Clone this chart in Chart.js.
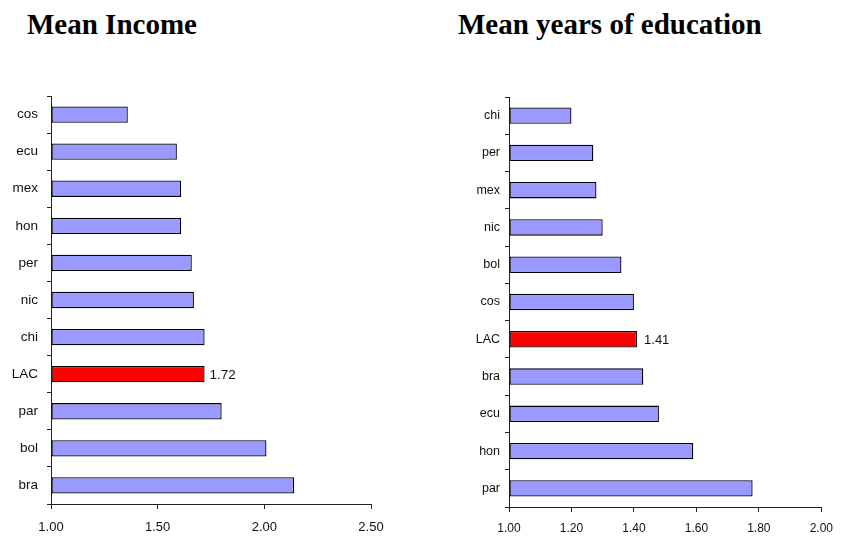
<!DOCTYPE html>
<html>
<head>
<meta charset="utf-8">
<script src="https://cdn.jsdelivr.net/npm/chart.js@4.4.1/dist/chart.umd.min.js"></script>
<style>
  body { margin: 0; background: #fff; }
  #page { position: relative; width: 842px; height: 539px; overflow: hidden; }
  .ttl { position: absolute; top: 10px; font-family: "Liberation Serif", "Times New Roman", serif; font-weight: bold; font-size: 29px; line-height: 29px; color: #000; white-space: nowrap; }
  #boxL { position: absolute; left: 0; top: 0; width: 420px; height: 539px; }
  #boxR { position: absolute; left: 420px; top: 0; width: 422px; height: 539px; }
</style>
</head>
<body>
<div id="page">
  <div class="ttl" style="left:27px">Mean Income</div>
  <div class="ttl" style="left:458px">Mean years of education</div>
  <div id="boxL"><canvas id="incomeChart"></canvas></div>
  <div id="boxR"><canvas id="eduChart"></canvas></div>
</div>
<script>
'use strict';

// mean income, top to bottom
let incomeNames = ['cos', 'ecu', 'mex', 'hon', 'per', 'nic', 'chi', 'LAC', 'par', 'bol', 'bra'];
let incomeValues = [1.36, 1.59, 1.61, 1.61, 1.66, 1.67, 1.72, 1.72, 1.80, 2.01, 2.14];
let incomeTicks = [1.00, 1.50, 2.00, 2.50];

// mean years of education, top to bottom
let eduNames = ['chi', 'per', 'mex', 'nic', 'bol', 'cos', 'LAC', 'bra', 'ecu', 'hon', 'par'];
let eduValues = [1.20, 1.27, 1.28, 1.30, 1.36, 1.40, 1.41, 1.43, 1.48, 1.59, 1.78];
let eduTicks = [1.00, 1.20, 1.40, 1.60, 1.80, 2.00];

let highlight = 'LAC';
let barColor = '#9999ff';
let redColor = '#ff0000';
let axisColor = '#222';

// writes the value next to the LAC bar
let lacLabel = {
    id: 'lacLabel',
    afterDatasetsDraw(chart, args, opts) {
        let names = chart.data.labels;
        let idx = names.indexOf(highlight);
        if (idx < 0) return;
        let bar = chart.getDatasetMeta(0).data[idx];
        let ctx = chart.ctx;
        ctx.save();
        ctx.font = opts.size + 'px "Liberation Sans", Arial, sans-serif';
        ctx.fillStyle = '#111';
        ctx.textAlign = 'left';
        ctx.textBaseline = 'middle';
        ctx.fillText(chart.data.datasets[0].data[idx].toFixed(2), bar.x + opts.gap, bar.y + 1);
        ctx.restore();
    }
};

function makeChart(canvasId, names, values, ticks, cfg) {
    let colors = [];
    for (let i = 0; i < names.length; i++) {
        colors.push(names[i] === highlight ? redColor : barColor);
    }
    let ctx = document.getElementById(canvasId).getContext('2d');
    return new Chart(ctx, {
        type: 'bar',
        data: {
            labels: names,
            datasets: [{
                data: values,
                base: ticks[0],
                backgroundColor: colors,
                borderColor: '#000',
                borderWidth: 1.3,
                borderSkipped: false,
                barPercentage: 0.44,
                categoryPercentage: 1
            }]
        },
        plugins: [lacLabel],
        options: {
            indexAxis: 'y',
            responsive: true,
            maintainAspectRatio: false,
            animation: false,
            layout: { padding: { top: cfg.top, right: cfg.right, left: 0, bottom: 0 } },
            plugins: {
                legend: { display: false },
                tooltip: { enabled: false },
                lacLabel: { size: cfg.valSize, gap: cfg.gap }
            },
            scales: {
                x: {
                    type: 'linear',
                    min: ticks[0],
                    max: ticks[ticks.length - 1],
                    afterBuildTicks: function (scale) {
                        scale.ticks = ticks.map(v => ({ value: v }));
                    },
                    afterFit: function (scale) { scale.height = cfg.xHeight; },
                    border: { display: true, color: axisColor, width: 1 },
                    grid: { display: true, drawOnChartArea: false, drawTicks: true, tickLength: 5, color: axisColor },
                    ticks: {
                        padding: cfg.xPad,
                        color: '#111',
                        font: { family: '"Liberation Sans", Arial, sans-serif', size: cfg.tickSize },
                        callback: function (v) { return Number(v).toFixed(2); }
                    }
                },
                y: {
                    afterFit: function (scale) { scale.width = cfg.yWidth; },
                    border: { display: true, color: axisColor, width: 1 },
                    grid: { display: true, offset: true, drawOnChartArea: false, drawTicks: true, tickLength: 4, color: axisColor },
                    ticks: {
                        padding: cfg.yPad,
                        color: '#111',
                        font: { family: '"Liberation Sans", Arial, sans-serif', size: cfg.catSize }
                    }
                }
            }
        }
    });
}

makeChart('incomeChart', incomeNames, incomeValues, incomeTicks,
    { top: 96, right: 49, xHeight: 35, yWidth: 51, xPad: 11, yPad: 9, tickSize: 13, catSize: 13.5, valSize: 13.5, gap: 5 });

makeChart('eduChart', eduNames, eduValues, eduTicks,
    { top: 97, right: 17, xHeight: 32, yWidth: 89, xPad: 9, yPad: 5, tickSize: 12, catSize: 12.5, valSize: 13, gap: 7 });
</script>
</body>
</html>
